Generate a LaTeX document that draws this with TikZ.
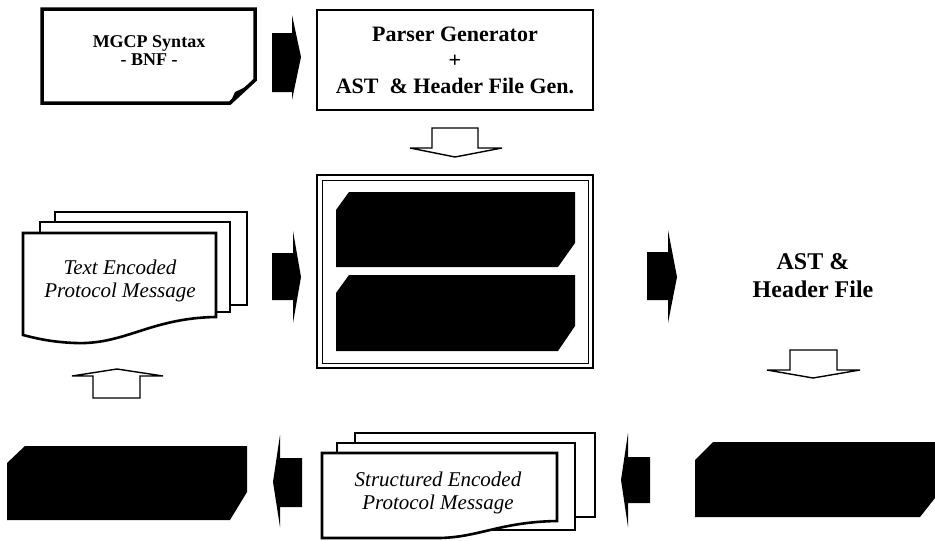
\documentclass[tikz,border=0pt]{standalone}
\usepackage{fontspec}
\setmainfont{Liberation Serif}
\begin{document}
\begin{tikzpicture}[x=1pt,y=-1pt,
  sheet/.style={draw=black,fill=white,line width=2.6pt,line join=miter},
  blk/.style={fill=black},
  warrow/.style={fill=white,draw=black,line width=1.4pt,line join=miter},
  lbl/.style={align=center,inner sep=0pt},
  boldlbl/.style={lbl,font=\bfseries\fontsize{22}{26}\selectfont},
  itlbl/.style={lbl,font=\itshape\fontsize{21}{23.5}\selectfont}
  ]
\useasboundingbox (0,0) rectangle (935,541);

% ---------- MGCP syntax sheet (folded corner)
\draw[line width=3.5pt,fill=white,line join=miter] (42,9) -- (255,9) -- (255,80) -- (230,103) -- (42,103) -- cycle;
\fill (230,103) -- (235,92) .. controls (242,89) and (248,86) .. (255,80) -- cycle;
\node[lbl,font=\bfseries\fontsize{18}{18}\selectfont] (mgcp) at (149,51) {MGCP Syntax\\- BNF -};

% ---------- Parser generator box
\draw[line width=1.5pt] (317,10) rectangle (593,110);
\node[boldlbl] (parser) at (455,60) {Parser Generator\\+\\AST\ \ \& Header File Gen.};

% ---------- black arrow 1 (MGCP -> Parser)
\fill (272,33) -- (292,33) -- (292,15) -- (301,57) -- (292,100) -- (292,92) -- (272,92) -- cycle;

% ---------- white down arrow under parser
\draw[warrow] (432,128) -- (478,128) -- (478,148) -- (502,148) -- (455,157) -- (410,148) -- (432,148) -- cycle;

% ---------- central frame
\draw[line width=2.8pt] (317,175) rectangle (593,368);
\draw[line width=0.8pt] (322,180) rectangle (588,363);
\node[inner sep=0pt] (frame) at (455,271.5) {};
\fill[blk] (336,210) -- (349,192) -- (575,192) -- (575,243) -- (558,267) -- (336,267) -- cycle;
\fill[blk] (336,293) -- (349,275) -- (575,275) -- (575,326) -- (558,351) -- (336,351) -- cycle;

% ---------- black arrow 2 (Text doc -> frame)
\fill (272,253) -- (293,253) -- (293,231) -- (301,277) -- (293,323) -- (293,300) -- (272,300) -- cycle;

% ---------- Text Encoded Protocol Message stack
\draw[sheet] (55,212) rectangle (247,305);
\draw[sheet] (40,222) rectangle (230,312);
\draw[sheet] (23,233) -- (216,233) -- (216,317)
  .. controls (150,318) and (125,345) .. (75,343)
  .. controls (50,342) and (35,338) .. (23,335) -- cycle;
\node[itlbl] (textmsg) at (120,281) {Text Encoded\\Protocol Message};

% ---------- white up arrow under text doc
\draw[warrow] (93,398) -- (93,376) -- (72,376) -- (117,369) -- (163,376) -- (140,376) -- (140,398) -- cycle;

% ---------- black arrow 3 (frame -> AST)
\fill (647,252) -- (668,252) -- (668,230) -- (677,277) -- (668,323) -- (668,300) -- (647,300) -- cycle;

% ---------- AST & Header File
\node[lbl,font=\bfseries\fontsize{24}{28}\selectfont] (ast) at (813,276) {AST \&\\Header File};

% ---------- white down arrow right
\draw[warrow] (790,350) -- (837,350) -- (837,370) -- (860,370) -- (813,378) -- (767,370) -- (790,370) -- cycle;

% ---------- bottom right black box
\fill[blk] (695,460) -- (713,442) -- (935,442) -- (935,498) -- (920,517) -- (695,517) -- cycle;

% ---------- black left arrow (right box -> structured)
\fill (650,457) -- (628,457) -- (628,433) -- (621,480) -- (628,527) -- (628,503) -- (650,503) -- cycle;

% ---------- Structured Encoded Protocol Message stack
\draw[sheet] (355,433) rectangle (595,517);
\draw[sheet] (337,443) rectangle (575,530);
\draw[sheet] (322,453) -- (557,453) -- (557,521)
  .. controls (500,522) and (480,537) .. (440,538)
  -- (322,538) -- cycle;
\node[itlbl] (structmsg) at (438,493) {Structured Encoded\\Protocol Message};

% ---------- black left arrow (structured -> left box)
\fill (302,458) -- (280,458) -- (280,435) -- (273,482) -- (280,527) -- (280,507) -- (302,507) -- cycle;

% ---------- bottom left black box
\fill[blk] (7,463) -- (25,446) -- (247,446) -- (247,492) -- (230,520) -- (7,520) -- cycle;
\end{tikzpicture}
\end{document}
